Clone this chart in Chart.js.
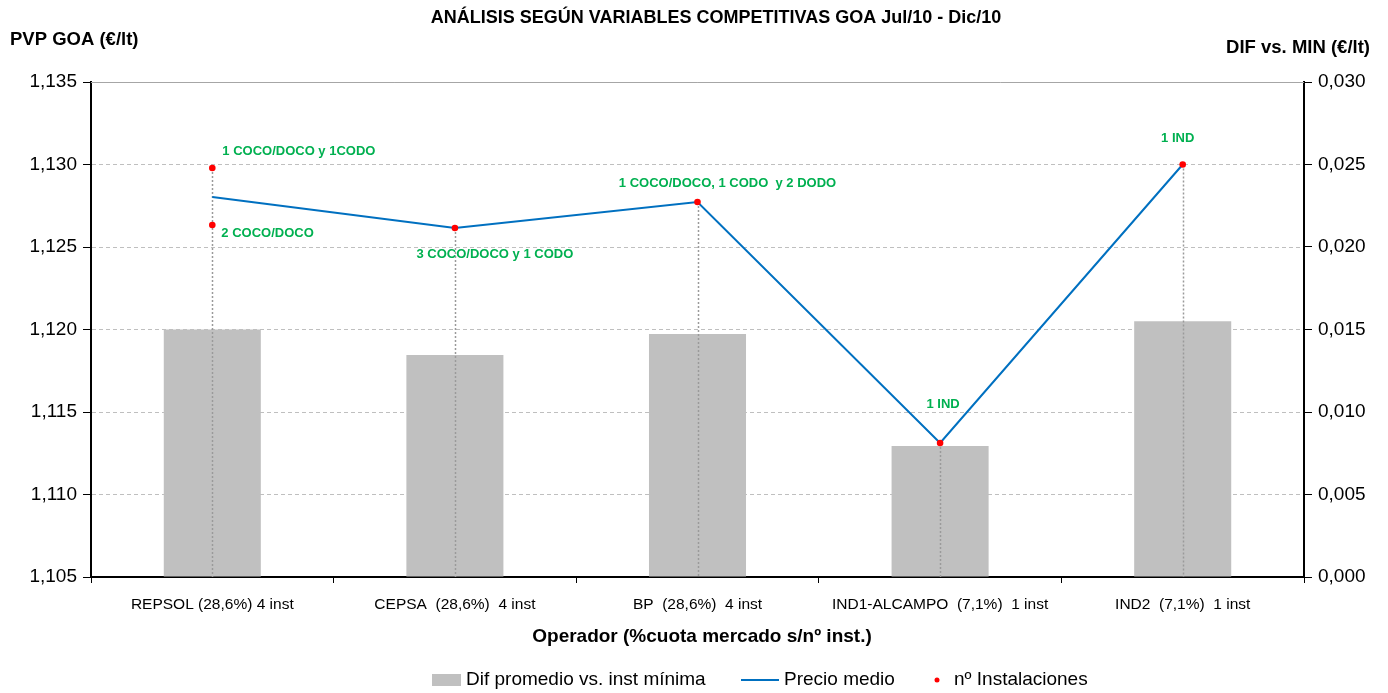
<!DOCTYPE html>
<html>
<head>
<meta charset="utf-8">
<script src="https://cdn.jsdelivr.net/npm/chart.js@4.4.1/dist/chart.umd.min.js"></script>
<style>
  html, body { margin: 0; padding: 0; background: #fff; }
  #wrap { width: 1388px; height: 693px; }
</style>
</head>
<body>
<div id="wrap"><canvas id="chart"></canvas></div>
<script>
// Data
const categories = [
  "REPSOL (28,6%) 4 inst",
  "CEPSA  (28,6%)  4 inst",
  "BP  (28,6%)  4 inst",
  "IND1-ALCAMPO  (7,1%)  1 inst",
  "IND2  (7,1%)  1 inst"
];
const difPromedio = [0.0150, 0.01345, 0.01473, 0.00794, 0.0155];
const precioMedio = [1.12803, 1.12615, 1.12773, 1.11312, 1.1300];
const instCategory = [0, 0, 1, 2, 3, 4];
const instValues = [1.12979, 1.12633, 1.12615, 1.12773, 1.11312, 1.1300];
const instLabels = [
  "1 COCO/DOCO y 1CODO",
  "2 COCO/DOCO",
  "3 COCO/DOCO y 1 CODO",
  "1 COCO/DOCO, 1 CODO  y 2 DODO",
  "1 IND",
  "1 IND"
];
const seriesNames = ["Dif promedio vs. inst mínima", "Precio medio", "nº Instalaciones"];

// label placement relative to each dot: [dx, dy, align]
const labelOffsets = [
  [10, -17, "left"],
  [9, 8, "left"],
  [40, 26, "center"],
  [30, -19, "center"],
  [3, -39, "center"],
  [-5, -26, "center"]
];

const FONT = "'Liberation Sans', Arial, sans-serif";
const GREEN = "#00B050";
const GREY_BAR = "#C0C0C0";
const BLUE = "#0070C0";
const RED = "#FF0000";

const comma = v => Number(v).toFixed(3).replace(".", ",");

const dropLines = {
  id: "dropLines",
  afterDatasetDraw(chart, args) {
    if (args.index !== 0) return;
    const { ctx, chartArea } = chart;
    const x = chart.scales.x, y = chart.scales.y;
    ctx.save();
    // solid top border line
    ctx.strokeStyle = "#A6A6A6";
    ctx.lineWidth = 1;
    ctx.beginPath();
    ctx.moveTo(chartArea.left, chartArea.top + 0.5);
    ctx.lineTo(chartArea.right, chartArea.top + 0.5);
    ctx.stroke();
    ctx.setLineDash([2, 2]);
    ctx.strokeStyle = "#9A9A9A";
    ctx.lineWidth = 1.5;
    categories.forEach((c, i) => {
      const vals = instValues.filter((v, k) => instCategory[k] === i);
      if (!vals.length) return;
      const top = y.getPixelForValue(Math.max(...vals));
      const px = Math.round(x.getPixelForValue(i)) + 0.5;
      ctx.beginPath();
      ctx.moveTo(px, top);
      ctx.lineTo(px, chartArea.bottom);
      ctx.stroke();
    });
    ctx.restore();
  }
};

const texts = {
  id: "texts",
  afterDraw(chart) {
    const { ctx } = chart;
    ctx.save();
    ctx.fillStyle = "#000";
    ctx.textBaseline = "middle";

    ctx.font = "bold 18px " + FONT;
    ctx.textAlign = "center";
    ctx.fillText("ANÁLISIS SEGÚN VARIABLES COMPETITIVAS GOA Jul/10 - Dic/10", 716, 18);
    ctx.font = "bold 18.5px " + FONT;
    ctx.textAlign = "left";
    ctx.fillText("PVP GOA (€/lt)", 10, 40);
    ctx.textAlign = "right";
    ctx.fillText("DIF vs. MIN (€/lt)", 1370, 48);

    ctx.font = "bold 19px " + FONT;
    ctx.textAlign = "center";
    ctx.fillText("Operador (%cuota mercado s/nº inst.)", 702, 637);

    // point labels
    const meta = chart.getDatasetMeta(2);
    ctx.font = "bold 13px " + FONT;
    ctx.fillStyle = GREEN;
    meta.data.forEach((pt, i) => {
      const [dx, dy, align] = labelOffsets[i];
      ctx.textAlign = align;
      ctx.fillText(instLabels[i], pt.x + dx, pt.y + dy);
    });

    // legend
    ctx.font = "19px " + FONT;
    ctx.textAlign = "left";
    const ly = 680;
    ctx.fillStyle = GREY_BAR;
    ctx.fillRect(432, ly - 6, 29, 12);
    ctx.fillStyle = "#000";
    ctx.fillText(seriesNames[0], 466, ly);
    ctx.strokeStyle = BLUE;
    ctx.lineWidth = 2;
    ctx.beginPath();
    ctx.moveTo(741, ly);
    ctx.lineTo(779, ly);
    ctx.stroke();
    ctx.fillText(seriesNames[1], 784, ly);
    ctx.fillStyle = RED;
    ctx.beginPath();
    ctx.arc(937, ly, 2.5, 0, Math.PI * 2);
    ctx.fill();
    ctx.fillStyle = "#000";
    ctx.fillText(seriesNames[2], 954, ly);
    ctx.restore();
  }
};

new Chart(document.getElementById("chart"), {
  data: {
    labels: categories,
    datasets: [
      {
        type: "bar",
        label: seriesNames[0],
        data: difPromedio,
        yAxisID: "y2",
        backgroundColor: GREY_BAR,
        barPercentage: 0.4,
        categoryPercentage: 1,
        order: 2
      },
      {
        type: "line",
        label: seriesNames[1],
        data: precioMedio,
        yAxisID: "y",
        borderColor: BLUE,
        borderWidth: 2,
        pointRadius: 0,
        tension: 0,
        order: 1
      },
      {
        type: "line",
        label: seriesNames[2],
        data: instValues.map((v, k) => ({ x: categories[instCategory[k]], y: v })),
        yAxisID: "y",
        showLine: false,
        pointRadius: 3.3,
        pointBackgroundColor: RED,
        pointBorderWidth: 0,
        order: 0
      }
    ]
  },
  options: {
    responsive: true,
    maintainAspectRatio: false,
    animation: false,
    layout: { padding: { top: 82, left: 0, right: 0, bottom: 0 } },
    plugins: {
      legend: { display: false },
      title: { display: false },
      tooltip: { enabled: false }
    },
    scales: {
      x: {
        offset: true,
        grid: { drawOnChartArea: false, offset: true, tickLength: 6, color: "#000", tickWidth: 1 },
        border: { color: "#000", width: 2 },
        ticks: { color: "#000", font: { family: FONT, size: 15.5 }, padding: 12, maxRotation: 0, autoSkip: false },
        afterFit(s) { s.height = 116; }
      },
      y: {
        position: "left",
        min: 1.105,
        max: 1.135,
        ticks: { stepSize: 0.005, color: "#000", font: { family: FONT, size: 19 }, padding: 6, callback: v => comma(v) },
        grid: { color: "#BFBFBF", tickColor: "#000", tickLength: 8, lineWidth: 1 },
        border: { color: "#000", width: 2, dash: [4, 3] },
        afterFit(s) { s.width = 91; }
      },
      y2: {
        position: "right",
        min: 0,
        max: 0.03,
        ticks: { stepSize: 0.005, color: "#000", font: { family: FONT, size: 19 }, padding: 6, callback: v => comma(v) },
        grid: { drawOnChartArea: false, tickColor: "#000", tickLength: 8 },
        border: { color: "#000", width: 2 },
        afterFit(s) { s.width = 84; }
      }
    }
  },
  plugins: [dropLines, texts]
});
</script>
</body>
</html>
